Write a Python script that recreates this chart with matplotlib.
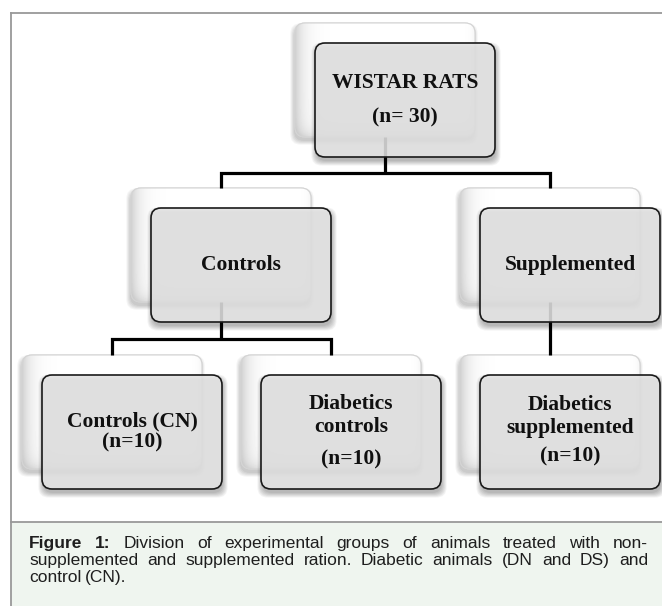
import numpy as np
import matplotlib.pyplot as plt
from matplotlib.patches import FancyBboxPatch, Rectangle
from matplotlib.lines import Line2D

plt.rcParams['font.family'] = ['Liberation Serif', 'DejaVu Serif']

# ---- content of the diagram ----
group_lines = [['WISTAR RATS'], ['Controls'], ['Supplemented'],
               ['Controls (CN)'], ['Diabetics', 'controls'],
               ['Diabetics', 'supplemented']]
group_n = [30, None, None, 10, 10, 10]
n_fmt = ['(n= {})', '', '', '(n={})', '(n={})', '(n={})']
parent = [None, 0, 0, 1, 1, 2]

caption_lines = [
    ['Figure', '1:', 'Division', 'of', 'experimental', 'groups', 'of',
     'animals', 'treated', 'with', 'non-'],
    ['supplemented', 'and', 'supplemented', 'ration.', 'Diabetic', 'animals',
     '(DN', 'and', 'DS)', 'and'],
    ['control', '(CN).'],
]
caption_bold_words = 2  # "Figure 1:"

# ---- layout (pixels, y downwards) ----
W, H = 662, 606
box_left = [315, 151, 480, 42, 261, 480]
box_top = [43, 208, 208, 375, 375, 375]
BOX_W, BOX_H = 180, 114
BACK = 20
RAD = 10
# vertical offset of every text line from the box centre
text_dy = [[-17, 17], [0], [0], [-11, 10], [-28, -5, 27], [-27, -4, 24]]
caption_y = [548, 565, 582]
caption_x0, caption_x1 = 29, 648

fig = plt.figure(figsize=(W / 100, H / 100), dpi=100)
ax = fig.add_axes([0, 0, 1, 1])


def rbox(x, y, w, h, **kw):
    return FancyBboxPatch((x, y), w, h, boxstyle='round,pad=0,rounding_size=%d' % RAD, **kw)


def soft_shadow(x, y, w, h, dx, dy, z, steps=6, alpha=0.05):
    for k in range(steps):
        g = k * 0.9
        ax.add_patch(rbox(x + dx - g, y + dy - g, w + 2 * g, h + 2 * g,
                          facecolor='black', edgecolor='none', alpha=alpha, zorder=z))


# frame and caption background
ax.add_patch(Rectangle((10.5, 522), W, H, facecolor='#eff5ef', edgecolor='none', zorder=0))
ax.plot([10.5, 10.5], [13, H], color='#999999', lw=1.3, zorder=1)
ax.plot([10.5, W], [13, 13], color='#999999', lw=1.3, zorder=1)
ax.plot([10.5, W], [522, 522], color='#999999', lw=1.3, zorder=1)

# gradient for the back cards
gy, gx = np.mgrid[0:BOX_H, 0:BOX_W]
grad = 1 - 0.18 * np.exp(-gx / 9.0) - 0.12 * np.exp(-(BOX_H - gy) / 7.0) \
    - 0.05 * np.exp(-(BOX_W - gx) / 4.0)
grad = np.clip(grad, 0, 1)

for i in range(len(group_lines)):
    fx, fy = box_left[i], box_top[i]
    bx, by = fx - BACK, fy - BACK
    # back card
    soft_shadow(bx, by, BOX_W, BOX_H, -1, 4, 2, steps=5, alpha=0.045)
    back = rbox(bx, by, BOX_W, BOX_H, facecolor='white', edgecolor='#d9d9d9', lw=0.8, zorder=3)
    ax.add_patch(back)
    im = ax.imshow(grad, cmap='gray', vmin=0, vmax=1, extent=(bx, bx + BOX_W, by + BOX_H, by),
                   zorder=3.1, interpolation='bilinear', aspect='auto')
    im.set_clip_path(back)
    ax.add_patch(rbox(bx, by, BOX_W, BOX_H, facecolor='none', edgecolor='#d4d4d4', lw=0.8, zorder=3.2))
    # front card
    soft_shadow(fx, fy, BOX_W, BOX_H, 1, 4, 5, steps=6, alpha=0.05)
    ax.add_patch(rbox(fx, fy, BOX_W, BOX_H, facecolor='#e6e6e6', edgecolor='none',
                      alpha=0.86, zorder=6))
    ax.add_patch(rbox(fx, fy, BOX_W, BOX_H, facecolor='none', edgecolor='#1a1a1a',
                      lw=1.2, zorder=7))
    # labels
    lines = list(group_lines[i])
    if group_n[i] is not None:
        lines.append(n_fmt[i].format(group_n[i]))
    cx, cy = fx + BOX_W / 2, fy + BOX_H / 2
    for txt, dy in zip(lines, text_dy[i]):
        ax.text(cx, cy + dy, txt, ha='center', va='center', fontsize=15.5,
                fontweight='bold', color='#101010', zorder=8)

# connectors (from back-card centres)
lw = 2.3
for p in range(len(group_lines)):
    kids = [c for c in range(len(parent)) if parent[c] == p]
    if not kids:
        continue
    px = box_left[p] - BACK + BOX_W / 2
    p_back_bottom = box_top[p] - BACK + BOX_H
    p_front_bottom = box_top[p] + BOX_H
    kid_top = box_top[kids[0]] - BACK
    bus = (p_front_bottom + kid_top) / 2
    if len(kids) == 1:
        ax.add_line(Line2D([px, px], [p_back_bottom, kid_top], color='black', lw=lw,
                           solid_capstyle='butt', zorder=4))
        continue
    ax.add_line(Line2D([px, px], [p_back_bottom, bus], color='black', lw=lw,
                       solid_capstyle='butt', zorder=4))
    xs = [box_left[k] - BACK + BOX_W / 2 for k in kids]
    ax.add_line(Line2D([xs[0], xs[0], xs[-1], xs[-1]], [kid_top, bus, bus, kid_top],
                       color='black', lw=lw, solid_capstyle='butt',
                       solid_joinstyle='miter', zorder=4))

# caption, justified
renderer = fig.canvas.get_renderer()
for li, words in enumerate(caption_lines):
    texts = []
    for wi, w in enumerate(words):
        bold = li == 0 and wi < caption_bold_words
        t = ax.text(0, caption_y[li], w, ha='left', va='baseline', fontsize=12.5,
                    family=['Liberation Sans', 'DejaVu Sans'],
                    fontweight='bold' if bold else 'normal', color='#1e1e1e', zorder=8)
        texts.append(t)
    widths = [t.get_window_extent(renderer).width for t in texts]
    if li < len(caption_lines) - 1:
        gap = (caption_x1 - caption_x0 - sum(widths)) / (len(words) - 1)
    else:
        gap = 4.0
    x = caption_x0
    for t, wd in zip(texts, widths):
        t.set_x(x)
        x += wd + gap

ax.set_xlim(0, W)
ax.set_ylim(H, 0)
ax.axis('off')
fig.savefig('out.png', dpi=100)
